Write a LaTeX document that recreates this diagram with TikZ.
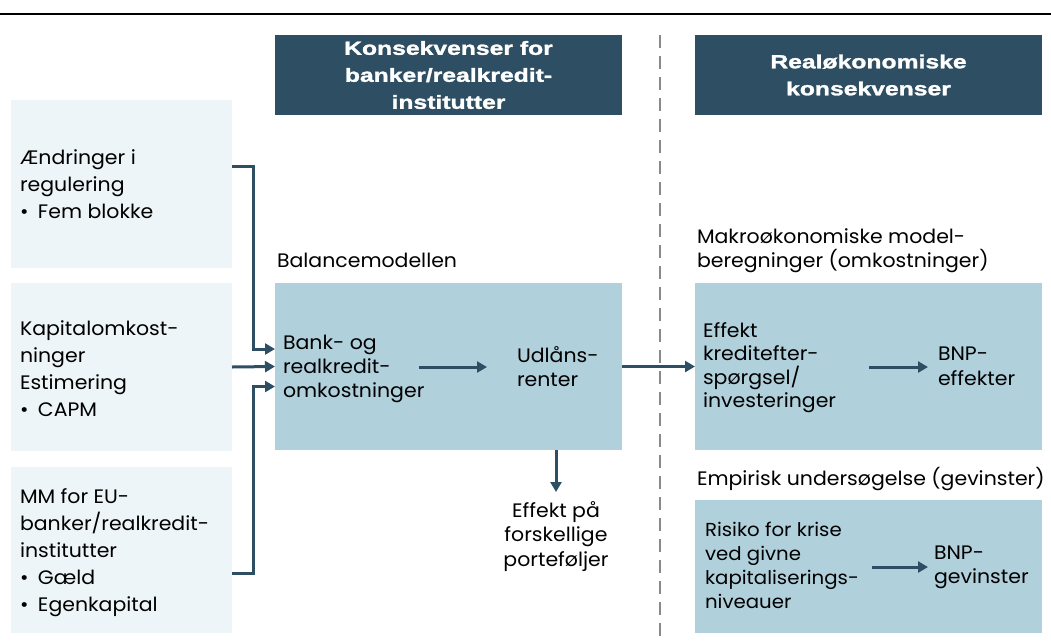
\documentclass[tikz,border=0pt]{standalone}
\usepackage{fontspec}
\setmainfont{Poppins}[FakeStretch=1.05]
\newfontfamily\headfont{Liberation Sans}[FakeStretch=1.3,FakeBold=1.5]
\usetikzlibrary{arrows.meta}
\definecolor{navy}{HTML}{2E4F63}
\definecolor{pale}{HTML}{EDF5F8}
\definecolor{boxblue}{HTML}{B0D0DC}
\definecolor{divgray}{HTML}{8A8A8A}
\newcommand{\bul}{\makebox[18pt][l]{\textbullet}}
\begin{document}
\begin{tikzpicture}[x=1pt,y=-1pt,
  every node/.style={inner sep=0pt, outer sep=0pt},
  lbox/.style={fill=pale, anchor=north west, minimum width=221pt},
  bbox/.style={fill=boxblue, anchor=north west, minimum width=347pt},
  hdr/.style={fill=navy, anchor=north west, minimum width=347pt, minimum height=80pt,
    text=white, align=center, font=\headfont\bfseries\fontsize{19}{27}\selectfont},
  txt/.style={anchor=base west, align=left, font=\fontsize{19.5}{27}\selectfont},
  arr/.style={draw=navy, line width=3pt, -{Triangle[length=10pt,width=11pt]}},
  divider/.style={draw=divgray, line width=2.6pt, dash pattern=on 13pt off 8pt}]
\useasboundingbox (0,0) rectangle (1051,643);

% top rule
\draw[line width=2.7pt] (0,14) -- (1051,14);

% column headers
\node[hdr] (h1) at (275,35) {Konsekvenser for\\banker/realkredit-\\institutter};
\node[hdr] (h2) at (695,35) {Realøkonomiske\\konsekvenser};

% column divider
\draw[divider] (660,35) -- (660,643);

% input boxes (text nodes sit on the baseline of their last line)
\node[lbox, minimum height=168pt] (l1) at (11,100) {};
\node[lbox, minimum height=168pt] (l2) at (11,283) {};
\node[lbox, minimum height=166pt] (l3) at (11,467) {};
\node[txt] (t1) at (20,218) {Ændringer i\\regulering\\\bul Fem blokke};
\node[txt] (t2) at (20,416) {Kapitalomkost-\\ninger\\Estimering\\\bul CAPM};
\node[txt] (t3) at (20,611) {MM for EU-\\banker/realkredit-\\institutter\\\bul Gæld\\\bul Egenkapital};

% balance model
\node[txt] (balab) at (277,267) {Balancemodellen};
\node[bbox, minimum height=167pt] (bal) at (275,283) {};
\node[txt, font=\fontsize{19.5}{24}\selectfont] (bank) at (283,397) {Bank- og\\realkredit-\\omkostninger};
\node[txt, font=\fontsize{19.5}{24}\selectfont] (udl) at (517,386) {Udlåns-\\renter};
\node[txt, anchor=base, align=center, font=\fontsize{19.5}{24.5}\selectfont] (port) at (556,566) {Effekt på\\forskellige\\porteføljer};

% macroeconomic model
\node[txt, font=\fontsize{19.5}{24}\selectfont] (maclab) at (697,267) {Makroøkonomiske model-\\beregninger (omkostninger)};
\node[bbox, minimum height=167pt] (mac) at (695,283) {};
\node[txt, font=\fontsize{19.5}{23.5}\selectfont] (kred) at (703,407.5) {Effekt\\kreditefter-\\spørgsel/\\investeringer};
\node[txt, font=\fontsize{19.5}{24.5}\selectfont] (bnp1) at (938,385) {BNP-\\effekter};

% empirical study
\node[txt] (emplab) at (697,485) {Empirisk undersøgelse (gevinster)};
\node[bbox, minimum height=133pt] (emp) at (695,500) {};
\node[txt, font=\fontsize{18.8}{24}\selectfont] (risk) at (705,608) {Risiko for krise\\ved givne\\kapitaliserings-\\niveauer};
\node[txt, font=\fontsize{19.5}{23.5}\selectfont] (bnp2) at (934,583) {BNP-\\gevinster};

% connectors from the inputs
\draw[arr] ([yshift=18pt]l1.east) -- ++(21,0) |- ([yshift=17.5pt]bal.west);
\draw[arr] (l2.east) -- (bal.west);
\draw[arr] ([yshift=-23pt]l3.east) -- ++(21,0) |- ([yshift=-20pt]bal.west);

% flows inside and between the boxes
\coordinate (a1) at (419,367);
\coordinate (a2) at (487,367);
\draw[arr] (a1) -- (a2);
\draw[arr] (bal.east) -- (mac.west);
\coordinate (d2) at (556,492);
\draw[arr] (bal.south -| d2) -- (d2);
\coordinate (b1) at (869,367);
\coordinate (b2) at (928,367);
\draw[arr] (b1) -- (b2);
\coordinate (c1) at (872,567);
\coordinate (c2) at (928,567);
\draw[arr] (c1) -- (c2);
\end{tikzpicture}
\end{document}
